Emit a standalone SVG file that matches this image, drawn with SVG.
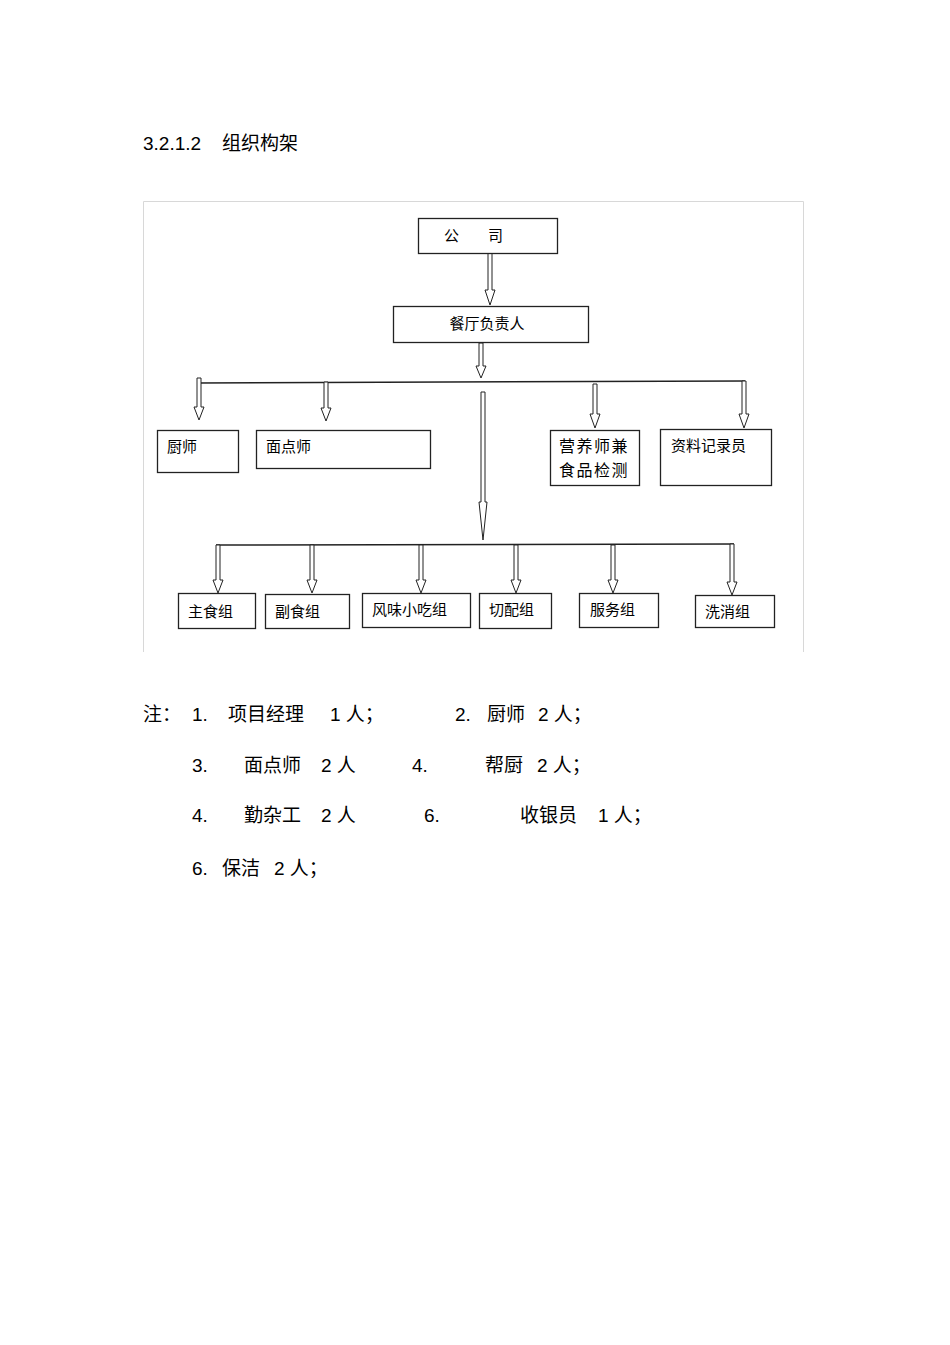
<svg xmlns="http://www.w3.org/2000/svg" width="950" height="1345" viewBox="0 0 950 1345">
<style>
.t{font-family:"Liberation Sans","Noto Sans CJK SC",sans-serif;fill:#000}
.b{fill:#fff;stroke:#222;stroke-width:1.3}
.n{font-size:15px}
.big{font-size:19px}
.ar{fill:#fff;stroke:#222;stroke-width:1}
.ln{stroke:#222;stroke-width:1.5;fill:none}
</style>
<rect width="950" height="1345" fill="#fff"/>
<text class="t big" x="143" y="150">3.2.1.2</text>
<text class="t big" x="222" y="150">组织构架</text>
<path d="M143.5 652 V201.5 H803.5 V652" fill="none" stroke="#d8d8d8" stroke-width="1"/>
<g id="connectors">
<path class="ar" d="M488 253 V290 H485 L490 305 L495 290 H492 V253 Z"/>
<path class="ar" d="M479 343 V366 H476 L481 378 L486 366 H483 V343 Z"/>
<path class="ln" d="M197 383 L745 381"/>
<path class="ar" d="M197 378 V407 H194 L199 420 L204 407 H201 V378 Z"/>
<path class="ar" d="M324 382 V408 H321 L326 421 L331 408 H328 V382 Z"/>
<path class="ar" d="M593 384 V414 H590 L595 428 L600 414 H597 V384 Z"/>
<path class="ar" d="M742 381 V414 H739 L744 428 L749 414 H746 V381 Z"/>
<path class="ar" d="M481 392 V502 H479 L483 540 L487 502 H485 V392 Z"/>
<path class="ln" d="M216 545 L734 544"/>
<path class="ar" d="M216 545 V580 H213 L218 593 L223 580 H220 V545 Z"/>
<path class="ar" d="M310 545 V580 H307 L312 593 L317 580 H314 V545 Z"/>
<path class="ar" d="M419 545 V580 H416 L421 593 L426 580 H423 V545 Z"/>
<path class="ar" d="M514 545 V580 H511 L516 593 L521 580 H518 V545 Z"/>
<path class="ar" d="M611 545 V580 H608 L613 593 L618 580 H615 V545 Z"/>
<path class="ar" d="M730 544 V582 H727 L732 595 L737 582 H734 V544 Z"/>
</g>
<g id="n-company"><rect class="b" x="418.5" y="218.5" width="139" height="35"/><text class="t n" x="444" y="241">公</text><text class="t n" x="488" y="241">司</text></g>
<g id="n-manager"><rect class="b" x="393.5" y="306.5" width="195" height="36"/><text class="t n" x="487" y="329" text-anchor="middle">餐厅负责人</text></g>
<g id="n-chef"><rect class="b" x="157.5" y="430.5" width="81" height="42"/><text class="t n" x="167" y="452">厨师</text></g>
<g id="n-pastry"><rect class="b" x="256.5" y="430.5" width="174" height="38"/><text class="t n" x="266" y="452">面点师</text></g>
<g id="n-nutrition"><rect class="b" x="550.5" y="430.5" width="89" height="55"/><text class="t" font-size="16" letter-spacing="1.5" x="559" y="452">营养师兼</text><text class="t" font-size="16" letter-spacing="1.5" x="559" y="476">食品检测</text></g>
<g id="n-records"><rect class="b" x="660.5" y="429.5" width="111" height="56"/><text class="t n" x="671" y="451">资料记录员</text></g>
<g id="n-staple"><rect class="b" x="178.5" y="593.5" width="77" height="35"/><text class="t n" x="188" y="617">主食组</text></g>
<g id="n-side"><rect class="b" x="265.5" y="594.5" width="84" height="34"/><text class="t n" x="275" y="617">副食组</text></g>
<g id="n-snack"><rect class="b" x="362.5" y="593.5" width="108" height="34"/><text class="t n" x="372" y="615">风味小吃组</text></g>
<g id="n-cut"><rect class="b" x="479.5" y="593.5" width="72" height="35"/><text class="t n" x="489" y="615">切配组</text></g>
<g id="n-service"><rect class="b" x="579.5" y="593.5" width="79" height="34"/><text class="t n" x="590" y="615">服务组</text></g>
<g id="n-wash"><rect class="b" x="695.5" y="595.5" width="79" height="32"/><text class="t n" x="705" y="617">洗消组</text></g>
<g id="notes">
<text class="t big" x="143" y="721">注：</text>
<text class="t big" x="192" y="721">1.</text>
<text class="t big" x="228" y="721">项目经理</text>
<text class="t big" x="330" y="721">1 人；</text>
<text class="t big" x="455" y="721">2.</text>
<text class="t big" x="487" y="721">厨师</text>
<text class="t big" x="538" y="721">2 人；</text>
<text class="t big" x="192" y="772">3.</text>
<text class="t big" x="244" y="772">面点师</text>
<text class="t big" x="321" y="772">2 人</text>
<text class="t big" x="412" y="772">4.</text>
<text class="t big" x="485" y="772">帮厨</text>
<text class="t big" x="537" y="772">2 人；</text>
<text class="t big" x="192" y="822">4.</text>
<text class="t big" x="244" y="822">勤杂工</text>
<text class="t big" x="321" y="822">2 人</text>
<text class="t big" x="424" y="822">6.</text>
<text class="t big" x="520" y="822">收银员</text>
<text class="t big" x="598" y="822">1 人；</text>
<text class="t big" x="192" y="875">6.</text>
<text class="t big" x="222" y="875">保洁</text>
<text class="t big" x="274" y="875">2 人；</text>
</g>
</svg>
